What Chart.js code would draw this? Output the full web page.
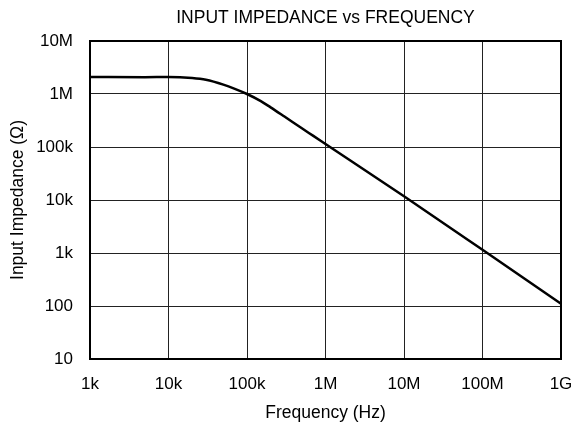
<!DOCTYPE html>
<html>
<head>
<meta charset="utf-8">
<script src="https://cdn.jsdelivr.net/npm/chart.js@4.4.1/dist/chart.umd.min.js"></script>
<style>
  html, body { margin: 0; padding: 0; background: #fff; }
  #wrap { width: 576px; height: 424px; }
</style>
</head>
<body>
<div id="wrap"><canvas id="chart"></canvas></div>
<script>
// frequency (Hz) and impedance (ohm)
const freqHz = [1e3, 5e3, 1e4, 2e4, 3e4, 5e4, 7e4, 1e5, 1.5e5, 2e5, 3e5, 5e5, 7e5, 1e6, 1e7, 1e8, 1e9];
const impedance = [2.1e6, 2.08e6, 2.1e6, 2.0e6, 1.85e6, 1.5e6, 1.25e6, 1.0e6, 7.35e5, 5.6e5, 3.75e5, 2.25e5, 1.62e5, 1.14e5, 1.18e4, 1.15e3, 110];

const xTickValues = [1e3, 1e4, 1e5, 1e6, 1e7, 1e8, 1e9];
const xTickLabels = ['1k', '10k', '100k', '1M', '10M', '100M', '1G'];
const yTickValues = [10, 100, 1e3, 1e4, 1e5, 1e6, 1e7];
const yTickLabels = ['10', '100', '1k', '10k', '100k', '1M', '10M'];

const FONT = 'Liberation Sans, Arial, sans-serif';

const frameBox = {
    id: 'frameBox',
    afterDraw(chart) {
        const a = chart.chartArea;
        const ctx = chart.ctx;
        ctx.save();
        ctx.strokeStyle = '#000';
        ctx.lineWidth = 2;
        ctx.strokeRect(a.left, a.top, a.right - a.left, a.bottom - a.top);
        ctx.restore();
    }
};

function labelFor(values, labels) {
    return (v) => {
        const i = values.findIndex(t => Math.abs(t - v) / t < 1e-6);
        return i >= 0 ? labels[i] : '';
    };
}

const ctx = document.getElementById('chart').getContext('2d');
new Chart(ctx, {
    type: 'line',
    data: {
        datasets: [{
            data: freqHz.map((f, i) => ({ x: f, y: impedance[i] })),
            borderColor: '#000',
            borderWidth: 2.5,
            pointRadius: 0,
            cubicInterpolationMode: 'monotone',
            fill: false
        }]
    },
    options: {
        responsive: true,
        maintainAspectRatio: false,
        animation: false,
        layout: { padding: { left: 8, right: 15, top: 7, bottom: 0 } },
        plugins: {
            legend: { display: false },
            tooltip: { enabled: false },
            title: {
                display: true,
                fullSize: false,
                text: 'INPUT IMPEDANCE vs FREQUENCY',
                color: '#000',
                font: { family: FONT, size: 17.5, weight: 'normal' },
                padding: { top: 1, bottom: 12 }
            }
        },
        scales: {
            x: {
                type: 'logarithmic',
                min: 1e3,
                max: 1e9,
                afterBuildTicks: (s) => { s.ticks = xTickValues.map(v => ({ value: v })); },
                afterFit: (s) => { s.height = 65; s.paddingLeft = 0; s.paddingRight = 0; },
                ticks: {
                    callback: labelFor(xTickValues, xTickLabels),
                    color: '#000',
                    font: { family: FONT, size: 17 },
                    maxRotation: 0,
                    autoSkip: false,
                    padding: 15
                },
                grid: { color: '#222', lineWidth: 1, drawTicks: false },
                border: { display: false },
                title: {
                    display: true,
                    text: 'Frequency (Hz)',
                    color: '#000',
                    font: { family: FONT, size: 17.5 },
                    padding: { top: 0, bottom: 0 }
                }
            },
            y: {
                type: 'logarithmic',
                min: 10,
                max: 1e7,
                afterBuildTicks: (s) => { s.ticks = yTickValues.map(v => ({ value: v })); },
                afterFit: (s) => { s.width = 82; },
                ticks: {
                    callback: labelFor(yTickValues, yTickLabels),
                    color: '#000',
                    font: { family: FONT, size: 17 },
                    autoSkip: false,
                    padding: 17
                },
                grid: { color: '#222', lineWidth: 1, drawTicks: false },
                border: { display: false },
                title: {
                    display: true,
                    text: 'Input Impedance (Ω)',
                    color: '#000',
                    font: { family: FONT, size: 17.5 },
                    padding: { top: 0, bottom: 4 }
                }
            }
        }
    },
    plugins: [frameBox]
});
</script>
</body>
</html>
